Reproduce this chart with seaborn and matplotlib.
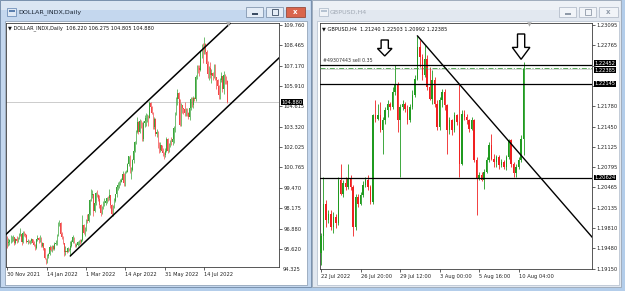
import numpy as np
import pandas as pd
import matplotlib
matplotlib.use("Agg")
import matplotlib.pyplot as plt
import seaborn as sns
from matplotlib.patches import Rectangle, Polygon

# ---------------- DOLLAR_INDX, Daily (30 Nov 2021 .. 10 Aug 2022) ----------------
dxy_first_open = 96.10
dxy_close = [95.99,
    96.04, 96.14, 96.16, 96.28, 96.33, 95.97, 96.22, 96.09, 96.28, 96.54, 96.55, 96.05, 96.63, 96.52,
    96.48, 96.06, 96.11, 96.00, 96.08, 96.20, 95.96, 95.82, 95.67,
    96.21, 96.27, 96.18, 96.32, 95.75, 95.97, 95.63, 94.99, 94.85, 95.17, 95.25, 95.74, 95.52, 95.80,
    95.62, 95.91, 95.95, 96.45, 97.25, 97.26, 96.54,
    96.36, 95.97, 95.37, 95.49, 95.43, 95.63, 95.52, 95.80, 96.04, 96.34, 95.99, 95.79, 95.83, 96.04,
    96.05, 96.02, 96.17, 97.13, 96.62, 96.71,
    97.40, 97.38, 97.79, 98.68, 99.02, 99.06, 97.97, 98.48, 99.12, 99.03, 98.75, 98.37, 97.85, 98.21,
    98.48, 98.49, 98.64, 98.81, 98.79, 98.98, 98.40, 97.82, 98.31,
    98.63, 99.04, 99.49, 99.62, 99.80, 99.84, 99.94, 100.31, 99.75, 100.46, 100.49, 100.95, 101.46,
    100.46, 100.61, 101.19, 101.76, 102.35, 102.97, 103.62, 102.96,
    103.67, 103.47, 102.53, 103.56, 103.66, 103.88, 103.92, 103.88, 104.84, 104.56, 104.19, 103.33,
    103.83, 102.88, 103.01, 102.07, 101.86, 102.14, 101.81, 101.66, 101.51, 101.76,
    102.55, 101.80, 102.14, 102.39, 102.33, 102.55, 103.23, 104.15, 105.08, 105.48, 105.06, 103.42,
    104.68, 104.48, 104.43, 104.20, 104.39, 104.19, 103.94, 104.48, 105.10, 104.69,
    105.14, 105.11, 106.48, 107.06, 107.04, 106.89, 108.06, 108.06, 108.01, 108.57, 108.07, 107.31,
    106.69, 107.02, 106.59, 106.73, 106.51, 107.16, 106.44, 106.26, 105.92,
    105.36, 106.30, 106.51, 105.68, 106.61, 106.38, 106.22, 104.88]
dxy_high = [96.40,
    96.30, 96.25, 96.45, 96.40, 96.45, 96.35, 96.30, 96.40, 96.38, 96.60, 96.90, 96.60, 96.70, 96.75,
    96.60, 96.55, 96.20, 96.15, 96.15, 96.30, 96.25, 96.10, 95.90,
    96.25, 96.45, 96.35, 96.45, 96.35, 96.05, 96.00, 95.65, 95.05, 95.25, 95.35, 95.85, 95.80, 95.85,
    95.85, 96.05, 96.15, 96.55, 97.30, 97.45, 97.30,
    96.65, 96.40, 96.00, 95.75, 95.60, 95.70, 95.65, 96.10, 96.15, 96.45, 96.35, 96.00, 95.95, 96.10,
    96.15, 96.20, 96.25, 97.75, 97.20, 97.00,
    97.50, 97.80, 97.90, 98.75, 99.40, 99.30, 99.10, 98.60, 99.20, 99.30, 99.10, 99.00, 98.45, 98.30,
    98.60, 98.80, 98.80, 98.90, 98.95, 99.40, 99.00, 98.45, 98.40,
    98.80, 99.10, 99.60, 99.80, 99.90, 100.00, 100.10, 100.50, 100.40, 100.55, 100.60, 101.00, 101.50,
    101.55, 100.75, 101.30, 101.85, 102.45, 103.10, 103.95, 103.70,
    103.80, 103.75, 103.60, 103.70, 104.05, 104.20, 104.10, 104.05, 104.95, 104.90, 104.65, 104.25,
    103.95, 103.90, 103.20, 103.05, 102.35, 102.35, 102.20, 101.95, 101.75, 102.00,
    102.70, 102.60, 102.30, 102.50, 102.70, 102.60, 103.35, 104.25, 105.20, 105.70, 105.50, 105.10,
    104.80, 104.70, 104.50, 104.90, 104.50, 104.50, 104.25, 104.60, 105.20, 105.20,
    105.30, 105.20, 106.60, 107.25, 107.20, 107.25, 108.15, 108.55, 108.60, 109.00, 108.60, 108.20,
    107.50, 107.15, 107.40, 107.00, 106.80, 107.30, 107.30, 106.50, 106.35,
    105.95, 106.40, 106.80, 106.55, 106.85, 106.65, 106.55, 106.275]
dxy_low = [95.65,
    95.80, 95.85, 96.00, 96.05, 96.10, 95.85, 95.90, 96.00, 96.05, 96.25, 96.40, 95.85, 95.95, 96.40,
    96.35, 96.00, 95.90, 95.95, 95.90, 96.00, 95.90, 95.75, 95.55,
    95.60, 96.10, 96.00, 96.05, 95.70, 95.70, 95.55, 94.95, 94.65, 94.70, 95.05, 95.20, 95.45, 95.40,
    95.55, 95.55, 95.85, 95.85, 96.40, 97.05, 96.50,
    96.25, 95.90, 95.15, 95.20, 95.35, 95.40, 95.45, 95.15, 95.70, 96.00, 95.95, 95.70, 95.70, 95.80,
    95.85, 95.90, 95.95, 96.10, 96.55, 96.40,
    96.70, 97.25, 97.30, 97.75, 98.60, 98.80, 97.70, 97.90, 98.40, 98.85, 98.60, 98.20, 97.70, 97.80,
    98.10, 98.30, 98.40, 98.50, 98.60, 98.70, 98.20, 97.70, 97.70,
    98.20, 98.55, 98.90, 99.35, 99.45, 99.65, 99.80, 99.90, 99.60, 99.55, 100.40, 100.45, 100.85,
    100.40, 100.00, 100.55, 101.05, 101.70, 102.25, 102.90, 102.85,
    102.90, 103.25, 102.40, 102.40, 103.30, 103.40, 103.65, 103.40, 103.85, 104.40, 104.10, 103.15,
    103.20, 102.75, 102.65, 101.95, 101.65, 101.75, 101.70, 101.45, 101.30, 101.40,
    101.70, 101.65, 101.70, 102.05, 102.20, 102.15, 102.30, 103.00, 104.05, 104.70, 104.40, 103.40,
    103.40, 104.20, 104.10, 104.00, 104.00, 104.00, 103.80, 103.75, 104.40, 104.60,
    104.50, 104.95, 104.95, 106.35, 106.75, 106.55, 106.85, 107.65, 107.35, 107.90, 107.90, 107.20,
    106.40, 106.30, 106.40, 106.10, 106.25, 106.40, 106.30, 105.70, 105.55,
    105.05, 105.05, 106.15, 105.55, 105.40, 106.00, 106.00, 104.805]
dxy_start, dxy_end = "2021-11-30", "2022-08-10"
dxy_date_ticks = ["2021-11-30", "2022-01-14", "2022-03-01", "2022-04-14", "2022-05-31", "2022-07-14"]
dxy_date_labels = ["30 Nov 2021", "14 Jan 2022", "1 Mar 2022", "14 Apr 2022", "31 May 2022", "14 Jul 2022"]
dxy_price_ticks = [109.760, 108.465, 107.170, 105.910, 104.615, 103.320, 102.025,
                   100.765, 99.470, 98.175, 96.880, 95.620]
dxy_price_labels = ["109.760", "108.465", "107.170", "105.910", "104.615", "103.320", "102.025",
                    "100.765", "99.470", "98.175", "96.880", "95.620"]
dxy_bottom_price, dxy_bottom_label = 94.325, "94.325"
dxy_bid = 104.880
dxy_header = "DOLLAR_INDX,Daily  106.220 106.275 104.805 104.880"
dxy_upper_x, dxy_upper_y = [-2, 183.5], [96.43, 109.87]
dxy_lower_x, dxy_lower_y = [52, 230], [95.15, 108.15]

# ---------------- GBPUSD, H4 (22 Jul 2022 .. 10 Aug 2022 12:00) ----------------
gbp_first_open = 1.1940
gbp_close = [1.1967, 1.2020, 1.1994, 1.2004, 1.1983, 1.1999, 1.1988, 1.2059, 1.2036, 1.2053,
    1.2047, 1.2061, 1.2047, 1.1983, 1.2031, 1.2020, 1.2034, 1.2051, 1.2059, 1.2047,
    1.2023, 1.2164, 1.2158, 1.2164, 1.2139, 1.2156, 1.2172, 1.2182, 1.2177, 1.2201,
    1.2214, 1.2156, 1.2177, 1.2182, 1.2174, 1.2156, 1.2177, 1.2196, 1.2222, 1.2274,
    1.2258, 1.2228, 1.2255, 1.2209, 1.2190, 1.2220, 1.2182, 1.2144, 1.2188, 1.2201,
    1.2180, 1.2139, 1.2156, 1.2139, 1.2164, 1.2153, 1.2085, 1.2166, 1.2161, 1.2156,
    1.2141, 1.2156, 1.2091, 1.2061, 1.2067, 1.2059, 1.2072, 1.2091, 1.2115, 1.2093,
    1.2088, 1.2096, 1.2083, 1.2088, 1.2080, 1.2096, 1.2123, 1.2085, 1.2069, 1.2080,
    1.2091, 1.2124, 1.22385]
gbp_high = [1.1972, 1.2064, 1.2026, 1.2010, 1.2010, 1.2007, 1.2004, 1.2064, 1.2085, 1.2059,
    1.2064, 1.2085, 1.2067, 1.2051, 1.2036, 1.2036, 1.2039, 1.2056, 1.2064, 1.2067,
    1.2051, 1.2166, 1.2188, 1.2182, 1.2185, 1.2161, 1.2177, 1.2188, 1.2185, 1.2209,
    1.2244, 1.2217, 1.2182, 1.2188, 1.2185, 1.2180, 1.2182, 1.2204, 1.2228, 1.2292,
    1.2285, 1.2263, 1.2277, 1.2261, 1.2241, 1.2236, 1.2225, 1.2188, 1.2193, 1.2206,
    1.2206, 1.2182, 1.2161, 1.2158, 1.2169, 1.2166, 1.2214, 1.2172, 1.2172, 1.2166,
    1.2158, 1.2161, 1.2158, 1.2096, 1.2072, 1.2072, 1.2077, 1.2096, 1.2120, 1.2133,
    1.2101, 1.2099, 1.2099, 1.2093, 1.2091, 1.2099, 1.2125, 1.2125, 1.2088, 1.2085,
    1.2096, 1.2131, 1.22503]
gbp_low = [1.1921, 1.1945, 1.1983, 1.1988, 1.1977, 1.1972, 1.1980, 1.1986, 1.2034, 1.2031,
    1.2042, 1.2044, 1.2042, 1.1967, 1.1977, 1.2015, 1.2018, 1.2031, 1.2047, 1.2042,
    1.2020, 1.2020, 1.2153, 1.2156, 1.2136, 1.2101, 1.2149, 1.2161, 1.2172, 1.2174,
    1.2196, 1.2136, 1.2064, 1.2172, 1.2169, 1.2149, 1.2153, 1.2174, 1.2193, 1.2220,
    1.2241, 1.2220, 1.2225, 1.2204, 1.2188, 1.2182, 1.2177, 1.2139, 1.2139, 1.2177,
    1.2172, 1.2101, 1.2133, 1.2131, 1.2136, 1.2147, 1.2064, 1.2083, 1.2156, 1.2149,
    1.2136, 1.2139, 1.2088, 1.2002, 1.2059, 1.2056, 1.2044, 1.2069, 1.2088, 1.2091,
    1.2080, 1.2080, 1.2077, 1.2080, 1.2077, 1.2075, 1.2093, 1.2080, 1.2064, 1.2064,
    1.2077, 1.2088, 1.20992]
gbp_tick_bars = [0, 16, 32, 48, 64, 80]
gbp_tick_labels = ["22 Jul 2022", "26 Jul 20:00", "29 Jul 12:00", "3 Aug 00:00", "5 Aug 16:00", "10 Aug 04:00"]
gbp_price_ticks = [1.23095, 1.22765, 1.22435, 1.22110, 1.21780, 1.21450, 1.21125,
                   1.20795, 1.20465, 1.20135, 1.19810, 1.19480, 1.19150]
gbp_price_labels = ["1.23095", "1.22765", "", "", "1.21780", "1.21450", "1.21125",
                    "1.20795", "1.20465", "1.20135", "1.19810", "1.19480", "1.19150"]
gbp_levels = [1.22452, 1.22145, 1.20624]
gbp_level_labels = ["1.22452", "1.22145", "1.20624"]
gbp_bid, gbp_bid_label = 1.22385, "1.22385"
gbp_order_price = 1.22400
gbp_order_label = "#49307443 sell 0.35"
gbp_header = "GBPUSD,H4  1.21240 1.22503 1.20992 1.22385"
gbp_trend_x, gbp_trend_y = [39, 112], [1.2292, 1.19554]
arrow_x = [25.8, 81.0]
arrow_top = [1.22852, 1.22949]
arrow_tip = [1.22593, 1.22539]

# ---------------- figure / window chrome ----------------
sns.set_style("white")
plt.rcParams["font.family"] = ["DejaVu Sans"]

W, H = 625, 291
fig = plt.figure(figsize=(W / 100, H / 100), dpi=100)
fig.patch.set_facecolor("#b3cdea")


def prect(x, y, w, h, fc, ec="none", lw=0.0, z=-5):
    fig.add_artist(Rectangle((x / W, 1 - (y + h) / H), w / W, h / H, transform=fig.transFigure,
                             facecolor=fc, edgecolor=ec, linewidth=lw, zorder=z))


def ptext(x, y, s, **kw):
    fig.text(x / W, 1 - y / H, s, **kw)


# left (active) window
prect(0, 0, 311, 287, "#c4d7ee", ec="#6f86a3", lw=0.6, z=-9)
prect(1, 1, 309, 9, "#dbe6f3", z=-8)
prect(5, 20.5, 302, 264.5, "white", ec="#8497ad", lw=0.5, z=-7)
# right (inactive) window
prect(312, 0, 309, 287, "#e2e8f0", ec="#9aa6b5", lw=0.6, z=-9)
prect(313, 1, 307, 9, "#edf1f6", z=-8)
prect(317, 20.5, 302, 264.5, "white", ec="#b0bccb", lw=0.5, z=-7)

# window icons
prect(7, 8, 9, 8, "#dfe9f5", ec="#5b7fae", lw=0.5, z=2)
prect(8.5, 9.5, 6, 2, "#5b7fae", z=3)
prect(319, 8, 9, 8, "#f0f3f7", ec="#a9b6c6", lw=0.5, z=2)
prect(320.5, 9.5, 6, 2, "#b6c3d2", z=3)

# titles
ptext(18, 12.5, "DOLLAR_INDX,Daily", fontsize=4.6, color="#1b2533", va="center", ha="left")
ptext(330, 12.5, "GBPUSD,H4", fontsize=4.6, color="#a3abb6", va="center", ha="left")


def buttons(x0, active):
    ec = "#7388a3" if active else "#aab4c2"
    fc = "#e4ecf6" if active else "#f1f4f8"
    gc = "#3b4c63" if active else "#8f9aa8"
    prect(x0, 7, 17, 10, fc, ec=ec, lw=0.5, z=2)
    prect(x0 + 5.5, 13, 6, 1.6, gc, z=3)
    prect(x0 + 20, 7, 17, 10, fc, ec=ec, lw=0.5, z=2)
    prect(x0 + 25.5, 9.5, 6, 5, "none", ec=gc, lw=0.6, z=3)
    cfc = "#d9654d" if active else "#f1f4f8"
    cec = "#8b3a2a" if active else "#aab4c2"
    prect(x0 + 40, 7, 19, 10, cfc, ec=cec, lw=0.5, z=2)
    ptext(x0 + 49.5, 12.3, "x", fontsize=5, color="white" if active else gc,
          ha="center", va="center", fontweight="bold")


buttons(246, True)
buttons(559, False)


# ---------------- chart helpers ----------------
def draw_candles(ax, first_open, closes, highs, lows, body_w, wick_lw, up, dn):
    c = np.asarray(closes, float)
    h = np.asarray(highs, float)
    l = np.asarray(lows, float)
    o = np.concatenate([[first_open], c[:-1]])
    x = np.arange(len(c))
    cols = np.where(c >= o, up, dn)
    ax.vlines(x, l, h, colors=cols, linewidth=wick_lw, zorder=3)
    ax.bar(x, np.abs(c - o), body_w, bottom=np.minimum(o, c), color=cols, linewidth=0, zorder=4)


def style_axes(ax):
    for sp in ax.spines.values():
        sp.set_visible(True)
        sp.set_color("#3c3c3c")
        sp.set_linewidth(0.6)
    ax.set_facecolor("white")
    ax.yaxis.tick_right()
    ax.tick_params(axis="y", which="both", left=False, right=True, length=2, width=0.5,
                   pad=1.2, labelsize=3.7, colors="#222222")
    ax.tick_params(axis="x", which="both", bottom=True, length=2, width=0.5,
                   pad=1.5, labelsize=3.7, colors="#222222")
    for lab in ax.get_xticklabels():
        lab.set_ha("left")
    ax.set_xlabel("")
    ax.set_ylabel("")


def price_box(ax, y, txt, dy=0.0, z=10, fc="black", color="white"):
    ax.annotate(txt, xy=(1.0, y), xycoords=("axes fraction", "data"), xytext=(2.4, dy),
                textcoords="offset pixels", ha="left", va="center", fontsize=3.7, color=color,
                bbox=dict(boxstyle="square,pad=0.08", fc=fc, ec="none"),
                annotation_clip=False, zorder=z)


def header(ax, s):
    ax.annotate("\u25bc " + s, xy=(0, 1), xycoords="axes fraction", xytext=(2.5, -5.8),
                textcoords="offset pixels", ha="left", va="center", fontsize=3.6, color="#111111",
                zorder=12)


def shift_marker(ax, xf):
    ax.plot([xf], [0.995], transform=ax.transAxes, marker="v", ms=3.2, color="#a8a8a8",
            mec="none", clip_on=False, zorder=12)


# ---------------- left chart ----------------
axL = fig.add_axes([6 / W, 1 - 267.3 / H, 273 / W, 244.6 / H])
dates = pd.bdate_range(dxy_start, dxy_end)
draw_candles(axL, dxy_first_open, dxy_close, dxy_high, dxy_low, 0.55, 0.5, "#3aa53a", "#f24848")
axL.axhline(dxy_bid, color="#c4c4c4", lw=0.6, zorder=2)
sns.lineplot(x=dxy_upper_x, y=dxy_upper_y, ax=axL, color="black", linewidth=1.1, zorder=6)
sns.lineplot(x=dxy_lower_x, y=dxy_lower_y, ax=axL, color="black", linewidth=1.1, zorder=6)
axL.set_xlim(-0.8, 223.5)
axL.set_ylim(94.433, 109.905)
tick_idx = [int(dates.get_loc(pd.Timestamp(d))) for d in dxy_date_ticks]
axL.set_xticks(tick_idx)
axL.set_xticklabels(dxy_date_labels)
axL.set_yticks(dxy_price_ticks)
axL.set_yticklabels(dxy_price_labels)
style_axes(axL)
axL.annotate(dxy_bottom_label, xy=(1.0, dxy_bottom_price), xycoords=("axes fraction", "data"),
             xytext=(4.0, 0), textcoords="offset pixels", ha="left", va="center",
             fontsize=3.7, color="#222222", annotation_clip=False)
price_box(axL, dxy_bid, "104.880")
header(axL, dxy_header)
shift_marker(axL, 0.813)

# ---------------- right chart ----------------
axR = fig.add_axes([320 / W, 1 - 269 / H, 272 / W, 246.3 / H])
draw_candles(axR, gbp_first_open, gbp_close, gbp_high, gbp_low, 0.6, 0.6, "#1f9a1f", "#f02020")
for lv in gbp_levels:
    axR.axhline(lv, color="black", lw=0.9, zorder=5)
axR.axhline(gbp_bid, color="#c8c8c8", lw=0.5, zorder=2)
axR.axhline(gbp_order_price, color="#3d9b3d", lw=0.6, zorder=5, dashes=(6, 2, 1.2, 2))
sns.lineplot(x=gbp_trend_x, y=gbp_trend_y, ax=axR, color="black", linewidth=1.0, zorder=6)
axR.set_xlim(-0.4, 109.7)
axR.set_ylim(1.19142, 1.23132)
axR.set_xticks(gbp_tick_bars)
axR.set_xticklabels(gbp_tick_labels)
axR.set_yticks(gbp_price_ticks)
axR.set_yticklabels(gbp_price_labels)
style_axes(axR)
axR.annotate(gbp_order_label, xy=(0, gbp_levels[0]), xycoords=("axes fraction", "data"),
             xytext=(3, 1.5), textcoords="offset pixels", ha="left", va="bottom",
             fontsize=3.4, color="#333333", zorder=7)
price_box(axR, gbp_bid, gbp_bid_label, dy=-1.4, z=10)
price_box(axR, gbp_levels[0], gbp_level_labels[0], dy=1.4, z=11)
price_box(axR, gbp_levels[1], gbp_level_labels[1], z=11)
price_box(axR, gbp_levels[2], gbp_level_labels[2], z=11)
header(axR, gbp_header)
shift_marker(axR, 0.768)

# hollow down arrows (pixel-sized shapes placed at data anchors)
sx = (109.7 + 0.4) / 272.0
head_half = [7.3, 8.8]
for xa, yt, yb, hw in zip(arrow_x, arrow_top, arrow_tip, head_half):
    y0 = axR.transData.transform((xa, yt))[1]
    y1 = axR.transData.transform((xa, yb))[1]
    L = y0 - y1
    sy = (yt - yb) / L
    hs = 0.53 * L
    sw = 3.6
    pts_px = [(-sw, 0), (sw, 0), (sw, hs), (hw, hs), (0, L), (-hw, hs), (-sw, hs)]
    pts = [(xa + dx * sx, yt - dy * sy) for dx, dy in pts_px]
    axR.add_patch(Polygon(pts, closed=True, facecolor="white", edgecolor="black",
                          linewidth=1.0, zorder=8, joinstyle="miter"))

fig.savefig("out.png", dpi=100, facecolor=fig.get_facecolor())
